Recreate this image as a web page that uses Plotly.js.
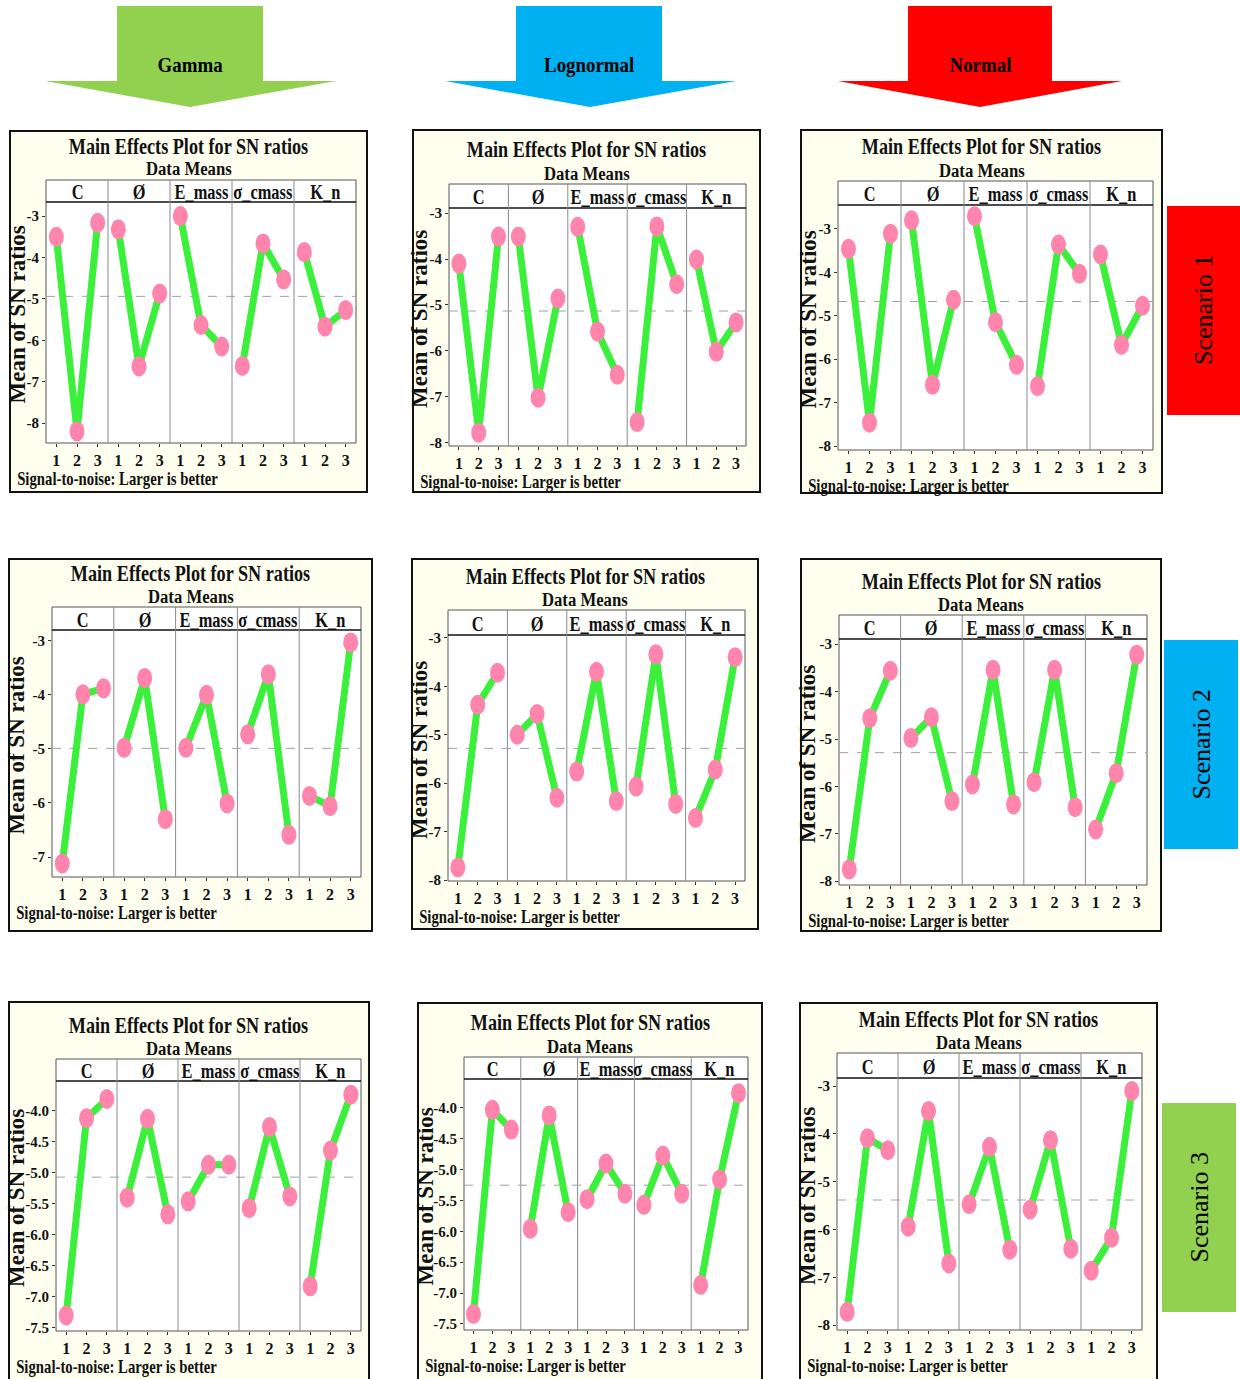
<!DOCTYPE html>
<html><head><meta charset="utf-8">
<script src="https://cdn.plot.ly/plotly-3.0.1.min.js"></script>
<style>body{margin:0;background:#fff}#chart{width:1240px;height:1379px}</style>
</head><body><div id="chart"></div>
<script>
// ---------- data ----------
const distributions = ['Gamma', 'Lognormal', 'Normal'];
const scenarios = ['Scenario 1', 'Scenario 2', 'Scenario 3'];
const factors = ['C', 'Ø', 'E_mass', 'σ_cmass', 'K_n'];
const levels = ['1', '2', '3'];
const plotTitle = 'Main Effects Plot for SN ratios';
const subTitle = 'Data Means';
const footNote = 'Signal-to-noise: Larger is better';
const yTitle = 'Mean of SN ratios';

// mean SN ratio per level, factor order: C, Ø, E_mass, σ_cmass, K_n
const gammaS1 = [[-3.50, -8.20, -3.16], [-3.32, -6.63, -4.87], [-3.00, -5.63, -6.15], [-6.62, -3.66, -4.53], [-3.87, -5.67, -5.27]];
const lognormalS1 = [[-4.10, -7.78, -3.51], [-3.51, -7.02, -4.86], [-3.30, -5.58, -6.52], [-7.55, -3.29, -4.55], [-4.01, -6.02, -5.38]];
const normalS1 = [[-3.46, -7.46, -3.11], [-2.80, -6.59, -4.63], [-2.71, -5.15, -6.13], [-6.62, -3.36, -4.03], [-3.59, -5.67, -4.77]];
const gammaS2 = [[-7.12, -3.99, -3.88], [-4.98, -3.69, -6.30], [-4.98, -4.00, -6.01], [-4.73, -3.62, -6.59], [-5.87, -6.06, -3.03]];
const lognormalS2 = [[-7.74, -4.38, -3.72], [-5.00, -4.57, -6.30], [-5.76, -3.70, -6.37], [-6.07, -3.34, -6.43], [-6.72, -5.72, -3.40]];
const normalS2 = [[-7.75, -4.56, -3.56], [-4.98, -4.54, -6.31], [-5.96, -3.54, -6.38], [-5.91, -3.54, -6.44], [-6.91, -5.72, -3.22]];
const gammaS3 = [[-7.30, -4.12, -3.81], [-5.40, -4.13, -5.67], [-5.46, -4.87, -4.87], [-5.57, -4.26, -5.38], [-6.83, -4.64, -3.74]];
const lognormalS3 = [[-7.34, -4.03, -4.35], [-5.96, -4.12, -5.69], [-5.48, -4.90, -5.39], [-5.57, -4.77, -5.39], [-6.87, -5.16, -3.76]];
const normalS3 = [[-7.72, -4.09, -4.34], [-5.94, -3.52, -6.71], [-5.47, -4.27, -6.42], [-5.58, -4.13, -6.40], [-6.86, -6.17, -3.10]];

const yTicksWhole = [-3, -4, -5, -6, -7, -8];
const yTickTextWhole = ['-3', '-4', '-5', '-6', '-7', '-8'];
const yTicksHalf = [-4.0, -4.5, -5.0, -5.5, -6.0, -6.5, -7.0, -7.5];
const yTickTextHalf = ['-4.0', '-4.5', '-5.0', '-5.5', '-6.0', '-6.5', '-7.0', '-7.5'];

// ---------- layout configuration (pixels) ----------
const W = 1240, H = 1379;
const fx = px => px / W;
const fy = py => 1 - py / H;
const serif = "'Liberation Serif','Times New Roman',Times,serif";

const panels = [
  {data: gammaS1,     box: [10, 131, 367, 492],   plot: [46, 202, 356, 443],    strip: 180,  yr: [-8.48, -2.66], half: false},
  {data: lognormalS1, box: [413, 130, 760, 492],  plot: [449, 208, 746, 446],   strip: 184,  yr: [-8.07, -2.89], half: false},
  {data: normalS1,    box: [801, 130, 1162, 493], plot: [838, 205, 1153, 450],  strip: 181,  yr: [-8.09, -2.45], half: false},
  {data: gammaS2,     box: [9, 559, 372, 931],    plot: [52, 630, 361, 877],    strip: 607,  yr: [-7.37, -2.80], half: false},
  {data: lognormalS2, box: [412, 559, 758, 929],  plot: [448, 635, 745, 881],   strip: 610,  yr: [-8.02, -2.94], half: false},
  {data: normalS2,    box: [801, 559, 1161, 931], plot: [839, 639, 1147, 885],  strip: 615,  yr: [-8.08, -2.89], half: false},
  {data: gammaS3,     box: [9, 1002, 369, 1382],  plot: [56, 1081, 361, 1331],  strip: 1059, yr: [-7.55, -3.52], half: true},
  {data: lognormalS3, box: [418, 1003, 762, 1382],plot: [464, 1079, 748, 1330], strip: 1057, yr: [-7.60, -3.53], half: true},
  {data: normalS3,    box: [800, 1003, 1157, 1382],plot: [837, 1078, 1142, 1330],strip: 1053, yr: [-8.10, -2.83], half: false}
];

const arrows = [
  {label: distributions[0], color: '#92D050', shaft: [117, 263], head: [45, 336], tip: 190},
  {label: distributions[1], color: '#00B0F0', shaft: [516, 662], head: [445, 736], tip: 590},
  {label: distributions[2], color: '#FF0000', shaft: [908, 1052], head: [838, 1122], tip: 980}
];
const scenarioBoxes = [
  {label: scenarios[0], color: '#FF0000', rect: [1167, 206, 1240, 415]},
  {label: scenarios[1], color: '#00B0F0', rect: [1164, 640, 1238, 849]},
  {label: scenarios[2], color: '#92D050', rect: [1162, 1103, 1236, 1312]}
];

const traces = [];
const layout = {
  width: W, height: H, margin: {l: 0, r: 0, t: 0, b: 0},
  paper_bgcolor: '#ffffff', plot_bgcolor: 'rgba(0,0,0,0)',
  showlegend: false, shapes: [], annotations: [], font: {family: serif, color: '#111'}
};
const condensed = [];
function addAnn(a, squeeze, origin) {
  layout.annotations.push(a);
  if (squeeze) condensed.push([layout.annotations.length - 1, squeeze, origin || 'center']);
}
function rectPx(x0, y0, x1, y1, style) {
  return Object.assign({type: 'rect', xref: 'paper', yref: 'paper', x0: fx(x0), x1: fx(x1), y0: fy(y1), y1: fy(y0), layer: 'below'}, style);
}
function linePx(x0, y0, x1, y1, style) {
  return Object.assign({type: 'line', xref: 'paper', yref: 'paper', x0: fx(x0), x1: fx(x1), y0: fy(y0), y1: fy(y1), layer: 'below'}, style);
}

// header arrows
arrows.forEach(a => {
  const top = 6, hy = 81, ty = 107;
  const pts = [[a.shaft[0], top], [a.shaft[1], top], [a.shaft[1], hy], [a.head[1], hy], [a.tip, ty], [a.head[0], hy], [a.shaft[0], hy]];
  const path = 'M' + pts.map(p => fx(p[0]) + ',' + fy(p[1])).join('L') + 'Z';
  layout.shapes.push({type: 'path', xref: 'paper', yref: 'paper', path: path, fillcolor: a.color, line: {width: 0}, layer: 'below'});
  addAnn({text: a.label, xref: 'paper', yref: 'paper', x: fx((a.shaft[0] + a.shaft[1]) / 2), y: fy(65), xanchor: 'center', yanchor: 'middle', showarrow: false,
    font: {family: serif, size: 21, color: '#000', weight: 'bold'}}, 0.9);
});

// scenario boxes
scenarioBoxes.forEach(s => {
  const [x0, y0, x1, y1] = s.rect;
  layout.shapes.push(rectPx(x0, y0, x1, y1, {fillcolor: s.color, line: {width: 0}}));
  addAnn({text: s.label, xref: 'paper', yref: 'paper', x: fx((x0 + x1) / 2), y: fy((y0 + y1) / 2), xanchor: 'center', yanchor: 'middle', textangle: -90, showarrow: false,
    font: {family: serif, size: 26, color: '#000'}});
});

panels.forEach((p, i) => {
  const yid = i === 0 ? 'y' : 'y' + (i + 1);
  const yname = i === 0 ? 'yaxis' : 'yaxis' + (i + 1);
  const firstX = i === 0 ? 'x' : 'x' + (i * 5 + 1);
  const [L, T, R, B] = p.plot;
  const w = (R - L) / factors.length;
  const [bx0, by0, bx1, by1] = p.box;

  layout.shapes.push(rectPx(bx0, by0, bx1, by1, {fillcolor: '#FFFFF0', line: {color: '#111', width: 2}}));
  layout.shapes.push(rectPx(L, p.strip, R, B, {fillcolor: '#FFFFFF', line: {color: '#555', width: 1}}));
  layout.shapes.push(linePx(L, T, R, T, {line: {color: '#111', width: 1.5}}));
  for (let j = 1; j < factors.length; j++) {
    layout.shapes.push(linePx(L + j * w, p.strip, L + j * w, B, {line: {color: '#8a8a8a', width: 1}}));
  }
  const all = p.data.flat();
  const mean = all.reduce((a, b) => a + b, 0) / all.length;
  layout.shapes.push({type: 'line', xref: 'paper', yref: yid, x0: fx(L), x1: fx(R), y0: mean, y1: mean,
    line: {color: '#a0a0a0', width: 1, dash: 'dash'}, layer: 'below'});

  layout[yname] = {
    domain: [fy(B), fy(T)], range: p.yr, anchor: firstX,
    tickvals: p.half ? yTicksHalf : yTicksWhole, ticktext: p.half ? yTickTextHalf : yTickTextWhole,
    ticks: 'outside', ticklen: 3, tickcolor: '#333',
    tickfont: {family: serif, size: 15, color: '#111', weight: 'bold'},
    showgrid: false, zeroline: false, showline: false, fixedrange: true
  };

  factors.forEach((f, j) => {
    const k = i * 5 + j + 1;
    const xid = k === 1 ? 'x' : 'x' + k;
    const xname = k === 1 ? 'xaxis' : 'xaxis' + k;
    layout[xname] = {
      domain: [fx(L + j * w), fx(L + (j + 1) * w)], anchor: yid, range: [0.5, 3.5],
      tickvals: [1, 2, 3], ticktext: levels, ticks: 'outside', ticklen: 3, tickcolor: '#333',
      tickfont: {family: serif, size: 16, color: '#111', weight: 'bold'},
      showgrid: false, zeroline: false, showline: false, fixedrange: true
    };
    traces.push({
      type: 'scatter', mode: 'lines+markers', x: [1, 2, 3], y: p.data[j], xaxis: xid, yaxis: yid,
      line: {color: '#3BF03B', width: 7}, marker: {color: '#FF85AD', size: 17, line: {width: 0}},
      hoverinfo: 'skip', cliponaxis: false
    });
    addAnn({text: f, xref: 'paper', yref: 'paper', x: fx(L + (j + 0.5) * w), y: fy((p.strip + T) / 2 + 1),
      xanchor: 'center', yanchor: 'middle', showarrow: false,
      font: {family: serif, size: 21, color: '#111', weight: 'bold'}}, 0.78);
  });

  const cx = (bx0 + bx1) / 2;
  addAnn({text: plotTitle, xref: 'paper', yref: 'paper', x: fx(cx), y: fy(p.strip - 34), xanchor: 'center', yanchor: 'middle', showarrow: false,
    font: {family: serif, size: 23, color: '#111', weight: 'bold'}}, 0.79);
  addAnn({text: subTitle, xref: 'paper', yref: 'paper', x: fx(cx), y: fy(p.strip - 11), xanchor: 'center', yanchor: 'middle', showarrow: false,
    font: {family: serif, size: 19, color: '#111', weight: 'bold'}}, 0.88);
  addAnn({text: footNote, xref: 'paper', yref: 'paper', x: fx(bx0 + 5), y: fy(B + 36), xanchor: 'left', yanchor: 'middle', showarrow: false,
    font: {family: serif, size: 18, color: '#111', weight: 'bold'}}, 0.82, 'left center');
  addAnn({text: yTitle, xref: 'paper', yref: 'paper', x: fx(bx0 + 7), y: fy((T + B) / 2 - 8), xanchor: 'center', yanchor: 'middle', textangle: -90, showarrow: false,
    font: {family: serif, size: 23, color: '#111', weight: 'bold'}});
});

Plotly.newPlot('chart', traces, layout, {staticPlot: true, displayModeBar: false}).then(() => {
  condensed.forEach(([idx, s, origin]) => {
    const t = document.querySelector('#chart .annotation[data-index="' + idx + '"] text');
    if (t) {
      t.style.transformBox = 'fill-box';
      t.style.transformOrigin = origin;
      t.style.transform = 'scaleX(' + s + ')';
    }
  });
  document.querySelectorAll('#chart .scatterlayer .points path.point').forEach(el => {
    el.setAttribute('d', 'M7.5,0A7.5,10 0 1,1 0,-10A7.5,10 0 0,1 7.5,0Z');
  });
});
</script>
</body></html>
